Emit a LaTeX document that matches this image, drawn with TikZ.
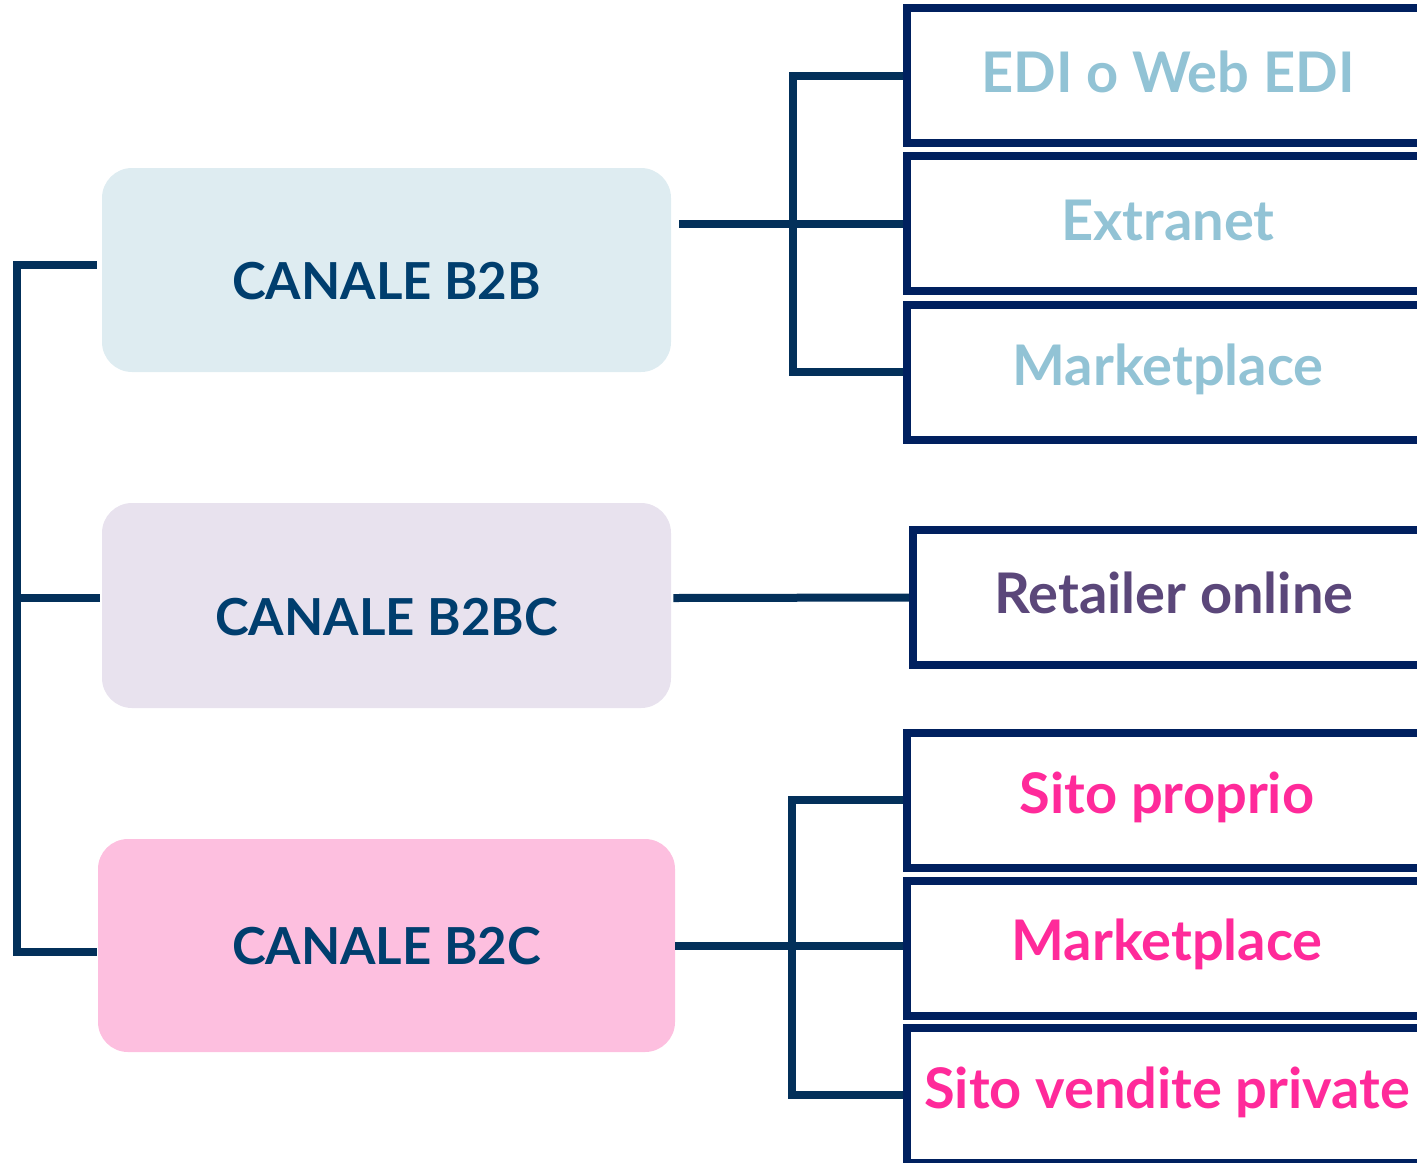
\documentclass[tikz,border=0pt]{standalone}
\usepackage{fontspec}
\setmainfont{Lato}
\definecolor{conncol}{HTML}{03305A}
\definecolor{bordcol}{HTML}{00205F}
\definecolor{lefttxt}{HTML}{003E6E}
\definecolor{fillbb}{HTML}{DEECF1}
\definecolor{fillbbc}{HTML}{E8E2EE}
\definecolor{fillbc}{HTML}{FDBFDF}
\definecolor{txtblue}{HTML}{92C3D5}
\definecolor{txtpurple}{HTML}{5B477A}
\definecolor{txtpink}{HTML}{FF2A9A}
\begin{document}
\begin{tikzpicture}[x=0.5pt,y=-0.5pt,
  leftbox/.style={rounded corners=15pt,draw=none,minimum width=284.5pt,inner sep=0pt},
  lefttext/.style={text=lefttxt,font=\fontsize{25.5}{30}\selectfont\bfseries,inner sep=0pt},
  rightbox/.style={draw=bordcol,line width=4pt,minimum width=261pt,minimum height=67.5pt,inner sep=0pt},
  righttext/.style={font=\fontsize{28}{32}\selectfont\bfseries,inner sep=0pt},
  conn/.style={draw=conncol,line width=4pt}]
\useasboundingbox (0,0) rectangle (1417,1162);
\clip (0,0) rectangle (1417,1162);
% left boxes
\node[leftbox,fill=fillbb,minimum height=102pt] (b2b) at (386.5,270) {};
\node[lefttext] (b2bt) at (386.5,281) {CANALE B2B};
\node[leftbox,fill=fillbbc,minimum height=102.5pt] (b2bc) at (386.5,605.5) {};
\node[lefttext] (b2bct) at (386.5,617) {CANALE B2BC};
\node[leftbox,fill=fillbc,minimum height=106.5pt,minimum width=288.5pt] (b2c) at (386.5,945.5) {};
\node[lefttext] (b2ct) at (386.5,946) {CANALE B2C};
% right boxes
\node[rightbox] (r1) at (1168,75.5) {};
\node[rightbox] (r2) at (1168,223.5) {};
\node[rightbox] (r3) at (1168,372) {};
\node[rightbox] (r4) at (1174,597.5) {};
\node[rightbox] (r5) at (1168,800) {};
\node[rightbox] (r6) at (1168,948) {};
\node[rightbox] (r7) at (1168,1095) {};
\node[righttext,text=txtblue] (t1) at (1168,72) {EDI o Web EDI};
\node[righttext,text=txtblue] (t2) at (1168,220) {Extranet};
\node[righttext,text=txtblue] (t3) at (1168,369) {Marketplace};
\node[righttext,text=txtpurple] (t4) at (1174,593) {Retailer online};
\node[righttext,text=txtpink] (t5) at (1167,797) {Sito proprio};
\node[righttext,text=txtpink] (t6) at (1167,944) {Marketplace};
\node[righttext,text=txtpink] (t7) at (1167,1092) {Sito vendite private};
% bracket coordinates
\coordinate (lt) at (17,265);
\coordinate (lm) at (17,598);
\coordinate (lb) at (17,952);
\coordinate (s1) at (793,223);
\coordinate (s3) at (792,946);
% left bracket
\draw[conn] ([xshift=-2.5pt]b2b.west |- lt) -- (lt) -- (lb) -- ([xshift=-0.5pt]b2c.west |- lb);
\draw[conn] (lm) -- ([xshift=-1pt]b2bc.west |- lm);
% B2B connectors
\draw[conn] ([xshift=4pt]b2b.east |- r2.west) -- (r2.west);
\draw[conn] (r1.west) -- (r1.west -| s1) -- (r3.west -| s1) -- (r3.west);
% B2BC connector
\draw[conn] ([xshift=1pt,yshift=3.75pt]b2bc.east) -- (r4.west);
% B2C connectors
\draw[conn] (b2c.east) -- (r6.west |- b2c.east);
\draw[conn] (r5.west) -- (r5.west -| s3) -- (r7.west -| s3) -- (r7.west);
\end{tikzpicture}
\end{document}
